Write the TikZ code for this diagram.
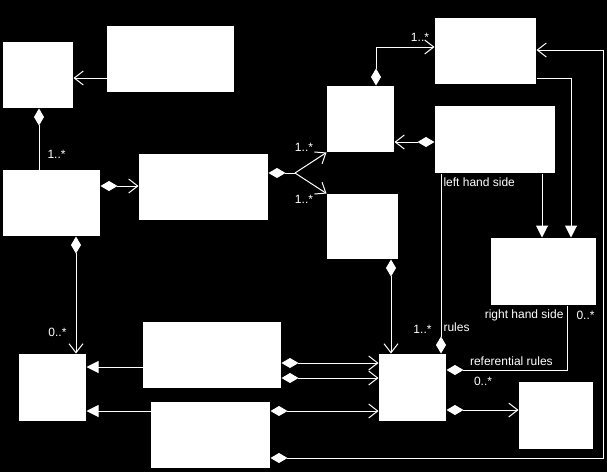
\documentclass[tikz,border=0pt]{standalone}
\usepackage{fontspec}
\setmainfont{Liberation Sans}
\usetikzlibrary{arrows.meta}

\begin{document}
\begin{tikzpicture}
[x=1pt,y=-1pt,color=white,line width=1pt,>={Straight Barb[length=9pt,width=14pt]},%
  dmd/.tip={Diamond[length=17pt,width=10pt]},
  tri/.tip={Triangle[length=12pt,width=12pt]},
  cls/.style={fill=white,draw=none,inner sep=0pt},
  mult/.style={font=\fontsize{12}{14}\selectfont,inner sep=1pt}]
\useasboundingbox[fill=black] (0,0) rectangle (607,472);
%% nodes or classes
\node[cls,minimum width=70pt,minimum height=66pt] (1) at (38,75) {};
\node[cls,minimum width=127pt,minimum height=66pt] (2) at (170.5,59) {};
\node[cls,minimum width=97pt,minimum height=66pt] (3) at (51.5,203) {};
\node[cls,minimum width=129pt,minimum height=66pt] (4) at (203.5,187) {};
\node[cls,minimum width=101pt,minimum height=66pt] (5) at (485.5,51) {};
\node[cls,minimum width=67pt,minimum height=66pt] (6) at (360.5,119) {};
\node[cls,minimum width=120pt,minimum height=67pt] (7) at (495,139.5) {};
\node[cls,minimum width=71pt,minimum height=65pt] (8) at (362.5,226.5) {};
\node[cls,minimum width=105pt,minimum height=67pt] (9) at (543.5,271.5) {};
\node[cls,minimum width=67pt,minimum height=67pt] (10) at (412.5,387.5) {};
\node[cls,minimum width=74pt,minimum height=67pt] (11) at (556,415.5) {};
\node[cls,minimum width=67pt,minimum height=67pt] (12) at (52.5,387.5) {};
\node[cls,minimum width=138pt,minimum height=66pt] (13) at (212,355) {};
\node[cls,minimum width=119pt,minimum height=66pt] (14) at (210.5,435) {};
\coordinate (split) at (295,173);
%% associations
\draw[->] (2.west |- 0,78) -- (1.east |- 0,78);
\draw[dmd-] (1.south -| 39,0) -- node[mult,pos=0.76,anchor=west,xshift=7pt] {1..*} (3.north -| 39,0);
\draw[dmd->] (3.east |- 0,186) -- (4.west |- 0,186);
\draw[dmd-] (4.east |- 0,173) -- (split);
\draw[->] (split) -- (6.south west)
  node[mult,pos=1,anchor=south east,xshift=-12pt] {1..*};
\draw[->] (split) -- (8.north west)
  node[mult,pos=1,anchor=north east,xshift=-12pt] {1..*};
\draw[dmd->] (6.north -| 376,0) |- (5.west |- 0,47)
  node[mult,pos=1,anchor=south east,xshift=-4pt,yshift=4pt] {1..*};
\draw[dmd->] (7.west |- 0,142) -- (6.east |- 0,142);
\draw[-tri] (7.south -| 542,0) -- (9.north -| 542,0);
\draw[-tri] (5.east |- 0,78) -| (9.north -| 571,0);
\draw[-dmd] (7.south -| 441,0) -- (10.north -| 441,0)
  node[mult,pos=0,anchor=north west,xshift=1pt,yshift=-3pt] {left hand side}
  node[mult,pos=1,anchor=south west,xshift=1pt,yshift=20pt] {rules}
  node[mult,pos=1,anchor=south east,xshift=-8pt,yshift=19pt] {1..*};
\draw[dmd->] (8.south -| 391,0) -- (10.north -| 391,0);
\draw[-dmd] (9.south -| 567,0) |- (10.east |- 0,370)
  node[mult,pos=0,anchor=north east,xshift=-2pt,yshift=-3pt] {right hand side}
  node[mult,pos=0,anchor=north west,xshift=8pt,yshift=-4pt] {0..*}
  node[mult,pos=1,anchor=south west,xshift=22pt,yshift=3pt] {referential rules}
  node[mult,pos=1,anchor=north west,xshift=26pt,yshift=-6pt] {0..*};
\draw[dmd->] (10.east |- 0,410) -- (11.west |- 0,410);
\draw[dmd->] (3.south -| 76,0) -- (12.north -| 76,0)
  node[mult,pos=1,anchor=south east,xshift=-8pt,yshift=15pt] {0..*};
\draw[-tri] (13.west |- 0,367) -- (12.east |- 0,367);
\draw[-tri] (14.west |- 0,411) -- (12.east |- 0,411);
\draw[dmd->] (13.east |- 0,363) -- (10.west |- 0,363);
\draw[dmd->] (13.east |- 0,378) -- (10.west |- 0,378);
\draw[dmd->] (14.east |- 0,411) -- (10.west |- 0,411);
\draw[dmd->] (14.east |- 0,458) -| (603,50) -- (5.east |- 0,50);
\end{tikzpicture}
\end{document}
